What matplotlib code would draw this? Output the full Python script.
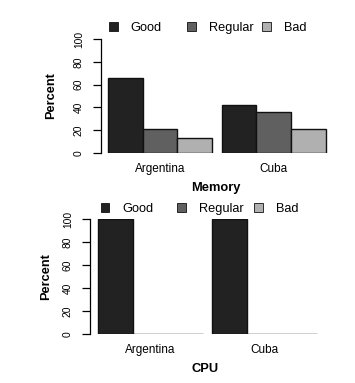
import numpy as np
import matplotlib.pyplot as plt
from matplotlib.patches import Patch
from matplotlib.legend import Legend

plt.rcParams['font.family'] = ['Liberation Sans', 'DejaVu Sans']

# data
countries = ['Argentina', 'Cuba']
levels = ['Good', 'Regular', 'Bad']
memory = {'Good': [66, 42.4], 'Regular': [21, 36.4], 'Bad': [13, 21.2]}
cpu = {'Good': [100, 100], 'Regular': [0, 0], 'Bad': [0, 0]}
colors = ['#222222', '#606060', '#b0b0b0']

W, H = 355, 383
fig = plt.figure(figsize=(W / 100, H / 100), dpi=100)


def px_axes(x0, x1, y_top, y_bot):
    # pixel box -> figure fraction
    return fig.add_axes([x0 / W, 1 - y_bot / H, (x1 - x0) / W, (y_bot - y_top) / H])


def panel(ax, data, gap, xlim, xlabel, label_x, leg_x, leg_y):
    n = len(levels)
    for i, lev in enumerate(levels):
        lefts = np.arange(len(countries)) * (n + gap) + i
        ax.bar(lefts, data[lev], width=1, align='edge', color=colors[i],
               edgecolor='#111111', linewidth=1.0)
    ax.set_xlim(*xlim)
    ax.set_ylim(0, 100)
    for s in ['top', 'right', 'bottom']:
        ax.spines[s].set_visible(False)
    ax.spines['left'].set_bounds(0, 100)
    ax.spines['left'].set_linewidth(0.9)
    ax.set_yticks([0, 20, 40, 60, 80, 100])
    ax.tick_params(axis='y', length=5.8, width=0.9, labelsize=7.4, pad=6.5)
    for t in ax.get_yticklabels():
        t.set_rotation(90)
        t.set_va('center')
    centers = np.arange(len(countries)) * (n + gap) + n / 2
    ax.set_xticks(centers)
    ax.set_xticklabels(countries, fontsize=8.5)
    ax.tick_params(axis='x', length=0, pad=7)
    ax.set_xlabel(xlabel, fontsize=9.3, fontweight='bold', labelpad=5)
    ax.set_ylabel('Percent', fontsize=9.2, fontweight='bold')
    ax.yaxis.set_label_coords(label_x, 0.5)
    # one legend per entry, R spaces the columns evenly
    for i, lev in enumerate(levels):
        h = Patch(facecolor=colors[i], edgecolor='#111111', linewidth=0.6)
        leg = Legend(ax, [h], [lev], loc='center left',
                     bbox_to_anchor=(leg_x[i] / W, 1 - leg_y / H),
                     bbox_transform=fig.transFigure, frameon=False,
                     fontsize=9.2, handlelength=0.7, handleheight=0.7,
                     handletextpad=1.0, borderpad=0, borderaxespad=0)
        ax.add_artist(leg)


ax1 = px_axes(101, 330, 39, 153)
panel(ax1, memory, 0.30, (-0.203, 6.43), 'Memory', -0.19,
      [109, 187, 262], 28)

ax2 = px_axes(90, 320, 219, 334)
panel(ax2, cpu, 0.26, (-0.229, 6.34), 'CPU', -0.165,
      [100.5, 177, 254], 209)

fig.savefig('out.png', dpi=100)
